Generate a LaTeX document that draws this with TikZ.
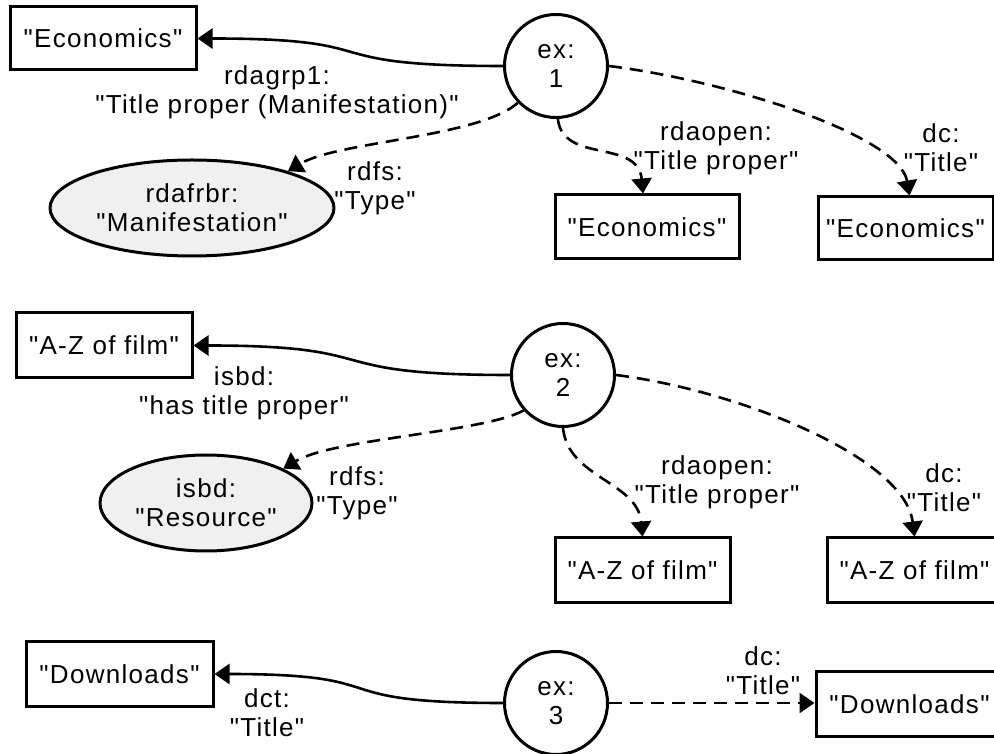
\documentclass[tikz,border=0pt]{standalone}
\usepackage{fontspec}
\setmainfont{Liberation Sans}[LetterSpace=5.0, Ligatures=TeXOff]
\usetikzlibrary{arrows.meta,shapes.geometric}
\definecolor{clsfill}{RGB}{240,240,240}

\begin{document}
\begin{tikzpicture}[x=1pt,y=1pt,
  every node/.style={font=\fontsize{26}{29}\selectfont, inner sep=0pt, align=center},
  litbox/.style={draw, line width=3pt, rectangle, minimum height=64pt},
  res/.style={draw, line width=3pt, circle, minimum size=103pt},
  cls/.style={draw, line width=3pt, ellipse, fill=clsfill, minimum height=96pt},
  rel/.style={line width=2.6pt, -{Triangle[length=15pt,width=20pt]}},
  opt/.style={rel, dash pattern=on 13pt off 8pt},
]
\path[use as bounding box] (0,0) rectangle (994,753);
\clip (0,0) rectangle (994,753);

% ---------- resource ex:1 ----------
\node[litbox, minimum width=186pt, minimum height=63pt] (lit1a) at (103,714.5) {"Economics"};
\node[res] (ex1) at (556,687) {ex:\\1};
\node[cls, minimum width=284pt] (cls1) at (192,545) {rdafrbr:\\"Manifestation"};
\node[litbox, minimum width=184pt] (lit1b) at (647,526) {"Economics"};
\node[litbox, minimum width=175pt, minimum height=63pt] (lit1c) at (905.5,524.5) {"Economics"};

\node (p1a) at (277,661) {rdagrp1:\\"Title proper (Manifestation)"};
\node (p1b) at (375,565) {rdfs:\\"Type"};
\node (p1c) at (716,605) {rdaopen:\\"Title proper"};
\node (p1d) at (941,605) {dc:\\"Title"};

\draw[rel] (ex1.west) .. controls +(-200,0) and +(200,0) .. (lit1a.east);
\draw[opt] (ex1.224) .. controls +(-40,-35) and +(50,30) .. (cls1.21);
\draw[opt] (ex1.-88) .. controls +(5,-45) and +(-5,55) .. ([xshift=-4pt]lit1b.north);
\draw[opt] (ex1.east) .. controls +(120,-15) and +(-10,60) .. ([xshift=4pt]lit1c.north);

% ---------- resource ex:2 ----------
\node[litbox, minimum width=176pt, minimum height=65pt] (lit2a) at (104,407.5) {"A-Z of film"};
\node[res] (ex2) at (563,378) {ex:\\2};
\node[cls, minimum width=212pt] (cls2) at (206,250) {isbd:\\"Resource"};
\node[litbox, minimum width=175pt, minimum height=65pt] (lit2b) at (642.5,182.5) {"A-Z of film"};
\node[litbox, minimum width=175pt, minimum height=65pt] (lit2c) at (914.5,182.5) {"A-Z of film"};

\node (p2a) at (244,360) {isbd:\\"has title proper"};
\node (p2b) at (357,260) {rdfs:\\"Type"};
\node (p2c) at (717,271) {rdaopen:\\"Title proper"};
\node (p2d) at (944,265) {dc:\\"Title"};

\draw[rel] (ex2.west) .. controls +(-200,0) and +(200,0) .. (lit2a.east);
\draw[opt] (ex2.222) .. controls +(-40,-22) and +(50,30) .. (cls2.24);
\draw[opt] (ex2.-90) .. controls +(5,-50) and +(-5,55) .. (lit2b.north);
\draw[opt] (ex2.east) .. controls +(120,-15) and +(-10,80) .. (lit2c.north);

% ---------- resource ex:3 ----------
\node[litbox, minimum width=187pt] (lit3a) at (119.5,79) {"Downloads"};
\node[res] (ex3) at (556,50) {ex:\\3};
\node[litbox, minimum width=187pt] (lit3b) at (909.5,49) {"Downloads"};

\node (p3a) at (267,40) {dct:\\"Title"};
\node (p3b) at (763,82) {dc:\\"Title"};

\draw[rel] (ex3.west) .. controls +(-190,0) and +(190,0) .. (lit3a.east);
\draw[opt] (ex3.east) -- (lit3b.west |- ex3.east);
\end{tikzpicture}
\end{document}
